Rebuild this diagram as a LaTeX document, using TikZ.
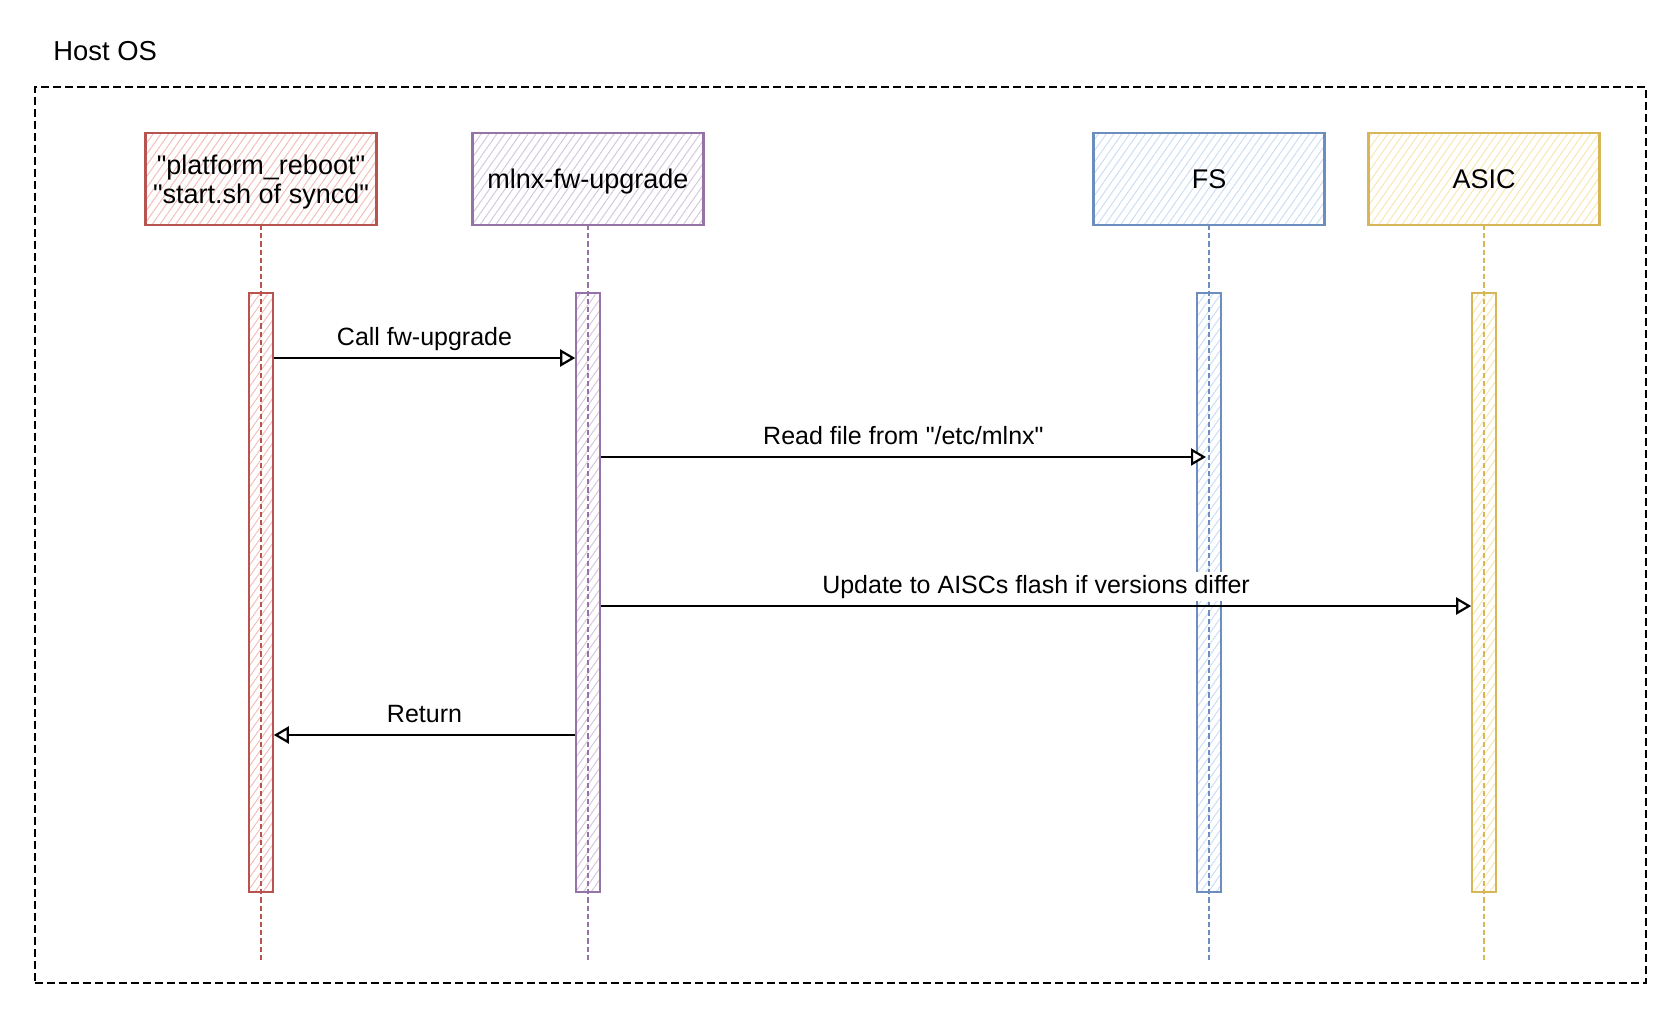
\documentclass[tikz,border=0pt]{standalone}
\usepackage{fontspec}
\setmainfont{Liberation Sans}[Ligatures=TeXOff]
\usetikzlibrary{arrows.meta,patterns.meta,calc}
\definecolor{redS}{HTML}{B85450}
\definecolor{redF}{HTML}{F2BFBB}
\definecolor{purpS}{HTML}{9673A6}
\definecolor{purpF}{HTML}{D6C6DE}
\definecolor{blueS}{HTML}{6C8EBF}
\definecolor{blueF}{HTML}{CCDDF5}
\definecolor{yelS}{HTML}{D6B656}
\definecolor{yelF}{HTML}{F8E6B0}
\begin{document}
\begin{tikzpicture}[x=0.5pt,y=-0.5pt,
  actor/.style={draw=#1S, line width=1.2pt,
    pattern={Lines[angle=55,distance=3.2pt,line width=0.5pt]}, pattern color=#1F,
    minimum width=115.5pt, minimum height=46pt, inner sep=0pt, align=center,
    text depth=-2pt, font=\fontsize{13.5}{14.5}\selectfont},
  actbar/.style={draw=#1S, line width=0.8pt,
    pattern={Lines[angle=55,distance=3.2pt,line width=0.5pt]}, pattern color=#1F,
    minimum width=12pt, minimum height=299.5pt, inner sep=0pt},
  lifeline/.style={draw=#1S, line width=1pt, dash pattern=on 2.6pt off 1.5pt},
  msg/.style={line width=1.1pt, -{Triangle[length=7.5pt,width=8.5pt,fill=white]}},
  lbl/.style={fill=white, inner sep=1.5pt, anchor=base, yshift=6.5pt,
    font=\fontsize{12.5}{14}\selectfont},
  frame/.style={draw=black, line width=1.2pt, dash pattern=on 4pt off 2pt,
    minimum width=805.5pt, minimum height=448pt, inner sep=0pt}
]
\useasboundingbox (0,0) rectangle (1680,1022);

% container
\node[anchor=base west, inner sep=0pt, font=\fontsize{13.7}{16}\selectfont] (host) at (53,61) {Host OS};
\node[frame] (frame) at (840.5,535) {};

% participants
\node[actor=red]  (A) at (261,179) {"platform\_reboot"\\"start.sh of syncd"};
\node[actor=purp] (B) at (588,179) {mlnx-fw-upgrade};
\node[actor=blue] (C) at (1209,179) {FS};
\node[actor=yel]  (D) at (1484,179) {ASIC};

% activation bars
\node[actbar=red]  (Abar) at (261,592.5) {};
\node[actbar=purp] (Bbar) at (588,592.5) {};
\node[actbar=blue] (Cbar) at (1209,592.5) {};
\node[actbar=yel]  (Dbar) at (1484,592.5) {};

% lifeline ends
\coordinate (Atop) at (261,225);
\coordinate (Btop) at (588,225);
\coordinate (Ctop) at (1209,225);
\coordinate (Dtop) at (1484,225);
\coordinate (Aend) at (261,962);
\coordinate (Bend) at (588,962);
\coordinate (Cend) at (1209,962);
\coordinate (Dend) at (1484,962);
\draw[lifeline=red]  (Atop) -- (Aend);
\draw[lifeline=purp] (Btop) -- (Bend);
\draw[lifeline=blue] (Ctop) -- (Cend);
\draw[lifeline=yel]  (Dtop) -- (Dend);

% message rows
\coordinate (y1) at (0,358);
\coordinate (y2) at (0,457);
\coordinate (y3) at (0,606);
\coordinate (y4) at (0,735);
\coordinate (Cin) at (1206,457);

\draw[msg] (Abar.east |- y1) -- node[lbl] {Call fw-upgrade} (Bbar.west |- y1);
\draw[msg] (Bbar.east |- y2) -- node[lbl] {Read file from "/etc/mlnx"} (Cin);
\draw[msg] (Bbar.east |- y3) -- node[lbl] {Update to AISCs flash if versions differ} (Dbar.west |- y3);
\draw[msg] (Bbar.west |- y4) -- node[lbl] {Return} (Abar.east |- y4);
\end{tikzpicture}
\end{document}
